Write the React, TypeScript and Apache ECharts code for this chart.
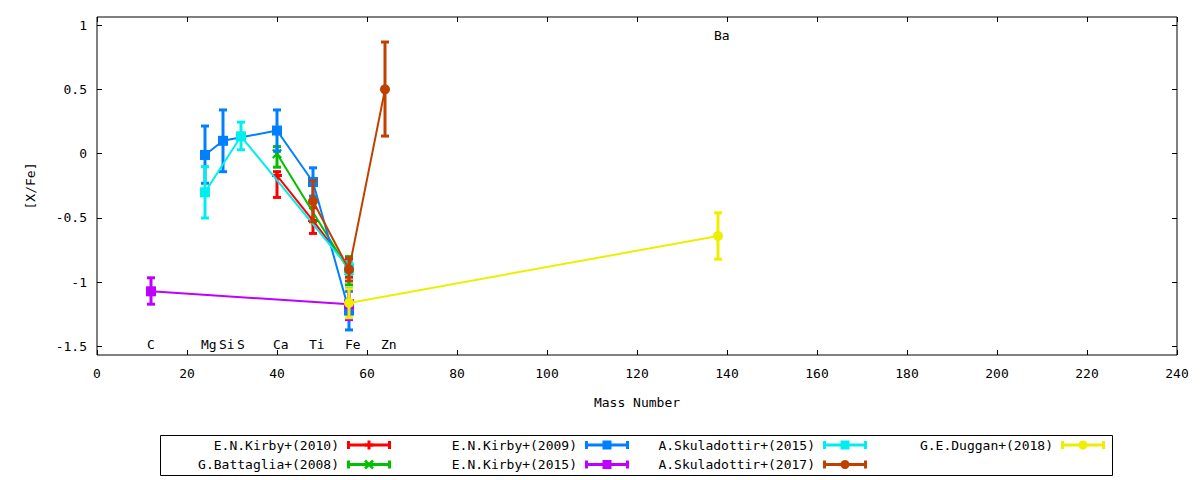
import { useEffect, useRef } from "react";
import * as echarts from "echarts";

// ---------- data ----------
const seriesNames = [
  "E.N.Kirby+(2010)",
  "G.Battaglia+(2008)",
  "E.N.Kirby+(2009)",
  "E.N.Kirby+(2015)",
  "A.Skuladottir+(2015)",
  "A.Skuladottir+(2017)",
  "G.E.Duggan+(2018)",
];

// rows: [mass number, [X/Fe], lower end of error bar, upper end of error bar]
const kirby2010 = [
  [40, -0.17, -0.34, -0.14],
  [48, -0.52, -0.62, -0.42],
  [56, -0.89, -0.96, -0.82],
];
const battaglia2008 = [
  [40, 0.0, -0.105, 0.055],
  [56, -0.91, -1.02, -0.8],
];
const kirby2009 = [
  [24, -0.01, -0.23, 0.215],
  [28, 0.1, -0.14, 0.34],
  [40, 0.18, 0.02, 0.34],
  [48, -0.22, -0.33, -0.11],
  [56, -1.22, -1.37, -1.07],
];
const kirby2015 = [
  [12, -1.07, -1.17, -0.965],
  [56, -1.17, -1.29, -1.05],
];
const skuladottir2015 = [
  [24, -0.3, -0.5, -0.1],
  [32, 0.135, 0.03, 0.245],
  [56, -0.89, -0.94, -0.84],
];
const skuladottir2017 = [
  [48, -0.37, -0.53, -0.21],
  [56, -0.9, -0.99, -0.81],
  [64, 0.5, 0.137, 0.868],
];
const duggan2018 = [
  [56, -1.16, -1.275, -1.05],
  [138, -0.64, -0.82, -0.46],
];

const elementNames = ["C", "Mg", "Si", "S", "Ca", "Ti", "Fe", "Zn", "Ba"];
const elementMass = [12, 24, 28, 32, 40, 48, 56, 64, 138];
const elementLabelY = [-1.48, -1.48, -1.48, -1.48, -1.48, -1.48, -1.48, -1.48, 0.915];

const yTickValues = [-1.5, -1, -0.5, 0, 0.5, 1];

// ---------- styles ----------
const colors = ["#ff0000", "#00c000", "#0080ff", "#c000ff", "#00eeee", "#c04000", "#eeee00"];
const markers = ["plus", "cross", "square", "square", "square", "circle", "circle"];
const FONT_FAMILY = '"DejaVu Sans Mono", monospace';
const FONT = '13px "DejaVu Sans Mono", monospace';

const PLUS_PATH = "path://M0,3.5H10V6.5H0Z M3.5,0H6.5V10H3.5Z";
const CROSS_PATH =
  "path://M0,1.5L1.5,0L5,3.5L8.5,0L10,1.5L6.5,5L10,8.5L8.5,10L5,6.5L1.5,10L0,8.5L3.5,5Z";

function symbolFor(m: string) {
  if (m === "plus") return PLUS_PATH;
  if (m === "cross") return CROSS_PATH;
  if (m === "square") return "rect";
  return "circle";
}

function errorBarRenderer(color: string) {
  return (_params: any, api: any) => {
    const x = api.value(0);
    const lo = api.coord([x, api.value(1)]);
    const hi = api.coord([x, api.value(2)]);
    const hw = 4;
    const style = { stroke: color, lineWidth: 3, fill: null };
    return {
      type: "group",
      children: [
        { type: "line", shape: { x1: lo[0], y1: lo[1], x2: hi[0], y2: hi[1] }, style },
        { type: "line", shape: { x1: lo[0] - hw, y1: lo[1], x2: lo[0] + hw, y2: lo[1] }, style },
        { type: "line", shape: { x1: hi[0] - hw, y1: hi[1], x2: hi[0] + hw, y2: hi[1] }, style },
      ],
    };
  };
}

function legendMarker(kind: string, cx: number, cy: number, color: string): any {
  if (kind === "plus") {
    return {
      type: "group",
      children: [
        { type: "rect", shape: { x: cx - 4.5, y: cy - 1.5, width: 9, height: 3 }, style: { fill: color } },
        { type: "rect", shape: { x: cx - 1.5, y: cy - 4.5, width: 3, height: 9 }, style: { fill: color } },
      ],
    };
  }
  if (kind === "cross") {
    return {
      type: "group",
      children: [
        { type: "line", shape: { x1: cx - 4, y1: cy - 4, x2: cx + 4, y2: cy + 4 }, style: { stroke: color, lineWidth: 2.5 } },
        { type: "line", shape: { x1: cx - 4, y1: cy + 4, x2: cx + 4, y2: cy - 4 }, style: { stroke: color, lineWidth: 2.5 } },
      ],
    };
  }
  if (kind === "square") {
    return { type: "rect", shape: { x: cx - 4.5, y: cy - 4.5, width: 9, height: 9 }, style: { fill: color } };
  }
  return { type: "circle", shape: { cx, cy, r: 4.5 }, style: { fill: color } };
}

function buildLegend(): any[] {
  const rowsY = [445, 464.5];
  const colStart = [347, 585, 823, 1061];
  const sampleLen = 44;
  const els: any[] = [
    {
      type: "rect",
      shape: { x: 160.5, y: 435.5, width: 952, height: 40 },
      style: { fill: "none", stroke: "#000", lineWidth: 1 },
      silent: true,
    },
  ];
  seriesNames.forEach((name, i) => {
    const col = Math.floor(i / 2);
    const row = i % 2;
    const s = colStart[col];
    const y = rowsY[row];
    const c = colors[i];
    els.push({
      type: "text",
      x: s - 8,
      y,
      style: {
        text: name,
        font: FONT,
        fill: "#000",
        align: "right",
        verticalAlign: "middle",
        textAlign: "right",
        textVerticalAlign: "middle",
      },
      silent: true,
    });
    els.push({ type: "line", shape: { x1: s, y1: y, x2: s + sampleLen, y2: y }, style: { stroke: c, lineWidth: 3 }, silent: true });
    els.push({ type: "line", shape: { x1: s + 1.5, y1: y - 4, x2: s + 1.5, y2: y + 4 }, style: { stroke: c, lineWidth: 3 }, silent: true });
    els.push({
      type: "line",
      shape: { x1: s + sampleLen - 1.5, y1: y - 4, x2: s + sampleLen - 1.5, y2: y + 4 },
      style: { stroke: c, lineWidth: 3 },
      silent: true,
    });
    const m = legendMarker(markers[i], s + sampleLen / 2, y, c);
    m.silent = true;
    els.push(m);
  });
  return els;
}

export default function App() {
  const ref = useRef<HTMLDivElement>(null);

  useEffect(() => {
    if (!ref.current) return;
    const chart = echarts.init(ref.current, undefined, { renderer: "svg" });

    const datasets = [kirby2010, battaglia2008, kirby2009, kirby2015, skuladottir2015, skuladottir2017, duggan2018];
    const series: any[] = [];
    datasets.forEach((rows, i) => {
      series.push({
        type: "custom",
        name: seriesNames[i] + " errors",
        z: 10 + 2 * i,
        silent: true,
        data: rows.map((r) => [r[0], r[2], r[3]]),
        encode: { x: 0, y: [1, 2] },
        renderItem: errorBarRenderer(colors[i]),
      });
      series.push({
        type: "line",
        name: seriesNames[i],
        z: 11 + 2 * i,
        silent: true,
        data: rows.map((r) => [r[0], r[1]]),
        symbol: symbolFor(markers[i]),
        symbolSize: 10,
        showSymbol: true,
        lineStyle: { color: colors[i], width: 2 },
        itemStyle: { color: colors[i] },
        emphasis: { disabled: true },
      });
    });
    series.push({
      type: "custom",
      name: "elements",
      z: 40,
      silent: true,
      data: elementNames.map((n, i) => ({ name: n, value: [elementMass[i], elementLabelY[i]] })),
      encode: { x: 0, y: 1 },
      renderItem: (params: any, api: any) => {
        const p = api.coord([api.value(0), api.value(1)]);
        return {
          type: "text",
          x: p[0] - 4,
          y: p[1],
          style: {
            text: elementNames[params.dataIndex],
            font: FONT,
            fill: "#000",
            align: "left",
            verticalAlign: "middle",
            textAlign: "left",
            textVerticalAlign: "middle",
          },
        };
      },
    });

    const tickStyle = { show: true, inside: true, length: 5, lineStyle: { color: "#000", width: 1 } };
    const noLine = { show: false, onZero: false };

    chart.setOption({
      animation: false,
      backgroundColor: "#fff",
      textStyle: { fontFamily: FONT_FAMILY, fontSize: 13, color: "#000" },
      grid: {
        left: 97,
        top: 17,
        width: 1080,
        height: 338,
        show: true,
        borderColor: "#000",
        borderWidth: 1,
        backgroundColor: "transparent",
        containLabel: false,
        outerBoundsMode: "none",
      },
      xAxis: [
        {
          type: "value",
          position: "bottom",
          min: 0,
          max: 240,
          interval: 20,
          name: "Mass Number",
          nameLocation: "middle",
          nameGap: 41,
          nameTextStyle: { fontFamily: FONT_FAMILY, fontSize: 13, color: "#000" },
          axisLine: noLine,
          axisTick: tickStyle,
          axisLabel: { color: "#000", margin: 12, fontFamily: FONT_FAMILY, fontSize: 13 },
          splitLine: { show: false },
        },
        {
          type: "value",
          position: "top",
          min: 0,
          max: 240,
          interval: 20,
          axisLine: noLine,
          axisTick: tickStyle,
          axisLabel: { show: false },
          splitLine: { show: false },
        },
      ],
      yAxis: [
        {
          type: "value",
          position: "left",
          min: -1.565,
          max: 1.0625,
          name: "[X/Fe]",
          nameLocation: "middle",
          nameGap: 60,
          nameRotate: 90,
          nameTextStyle: { fontFamily: FONT_FAMILY, fontSize: 13, color: "#000" },
          axisLine: noLine,
          axisTick: { ...tickStyle, customValues: yTickValues },
          axisLabel: {
            color: "#000",
            margin: 10,
            fontFamily: FONT_FAMILY,
            fontSize: 13,
            customValues: yTickValues,
            formatter: (v: number) => String(v),
          },
          splitLine: { show: false },
        },
        {
          type: "value",
          position: "right",
          min: -1.565,
          max: 1.0625,
          axisLine: noLine,
          axisTick: { ...tickStyle, customValues: yTickValues },
          axisLabel: { show: false, customValues: yTickValues },
          splitLine: { show: false },
        },
      ],
      series,
      graphic: buildLegend(),
    });

    return () => {
      chart.dispose();
    };
  }, []);

  return (
    <div
      ref={ref}
      style={{ position: "absolute", left: 0, top: 0, width: 1200, height: 480, background: "#fff" }}
    />
  );
}
